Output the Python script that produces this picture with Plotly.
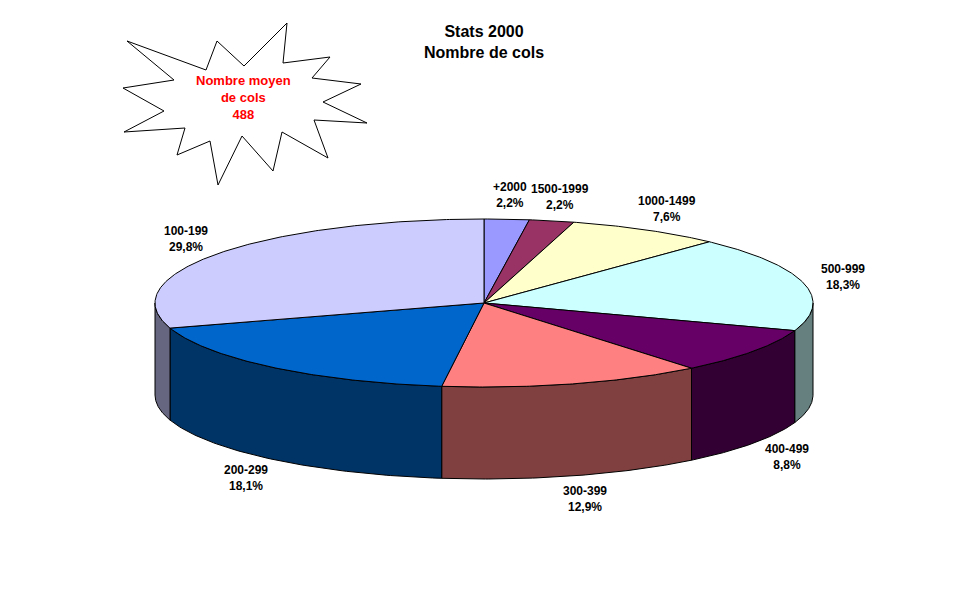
import numpy as np
import plotly.graph_objects as go

# ---- data ----
categories = ["+2000", "1500-1999", "1000-1499", "500-999", "400-499", "300-399", "200-299", "100-199"]
percent = [2.2, 2.2, 7.6, 18.3, 8.8, 12.9, 18.1, 29.8]
pct_text = ["2,2%", "2,2%", "7,6%", "18,3%", "8,8%", "12,9%", "18,1%", "29,8%"]
top_colors = ["#9999FF", "#993366", "#FFFFCC", "#CCFFFF", "#660066", "#FF8080", "#0066CC", "#CCCCFF"]
side_colors = ["#4D4D80", "#4D1A33", "#808066", "#668080", "#330033", "#804040", "#003366", "#666680"]
title_lines = ["Stats 2000", "Nombre de cols"]
callout_lines = ["Nombre moyen", "de cols", "488"]

# ---- geometry of the 3D pie (pixel space) ----
W, H = 970, 604
OFF = 8  # page body margin of the browser
cx, cy, rx, ry, depth = 484, 303, 329, 84, 92

total = sum(percent)
bounds = np.concatenate([[0], np.cumsum(percent)]) / total * 360.0


def ell(theta_deg, dy=0.0):
    t = np.radians(theta_deg)
    return cx + rx * np.sin(t), cy - ry * np.cos(t) + dy


fig = go.Figure()

# side walls (visible front half: 90..270 deg clockwise from top)
for i in range(len(categories)):
    a = max(bounds[i], 90.0)
    b = min(bounds[i + 1], 270.0)
    if a >= b:
        continue
    th = np.linspace(a, b, 80)
    xt, yt = ell(th)
    xb, yb = ell(th[::-1], depth)
    xs = np.concatenate([xt, xb, xt[:1]])
    ys = np.concatenate([yt, yb, yt[:1]])
    fig.add_trace(go.Scatter(x=xs, y=ys, mode="lines", fill="toself",
                             fillcolor=side_colors[i], line=dict(color="black", width=1),
                             hoverinfo="skip", showlegend=False))

# top faces
for i in range(len(categories)):
    th = np.linspace(bounds[i], bounds[i + 1], max(4, int((bounds[i + 1] - bounds[i]) * 2)))
    xa, ya = ell(th)
    xs = np.concatenate([[cx], xa, [cx]])
    ys = np.concatenate([[cy], ya, [cy]])
    fig.add_trace(go.Scatter(x=xs, y=ys, mode="lines", fill="toself",
                             fillcolor=top_colors[i], line=dict(color="black", width=1),
                             hoverinfo="skip", showlegend=False, name=categories[i]))

# data labels
label_font = dict(family="Liberation Sans Narrow, Arial Narrow, Liberation Sans, Arial", size=12, color="black")
for i in range(len(categories)):
    mid = (bounds[i] + bounds[i + 1]) / 2
    t = np.radians(mid)
    lx = cx + 1.125 * rx * np.sin(t)
    ly = cy - 1.29 * ry * np.cos(t) + (depth if np.cos(t) < 0 else 0)
    fig.add_annotation(x=lx, y=ly, xref="x", yref="y", showarrow=False,
                       text="<b>%s<br>%s</b>" % (categories[i], pct_text[i]),
                       font=label_font, align="center")

# title
fig.add_annotation(x=cx, y=42, xref="x", yref="y", showarrow=False,
                   text="<b>" + "<br>".join(title_lines) + "</b>",
                   font=dict(family="Liberation Sans, Arial", size=16, color="black"), align="center")

# starburst callout (decoration)
star = [(127, 41), (206, 70), (217, 41), (244, 66), (287, 23), (283, 63), (330, 57), (312, 78),
        (361, 84), (323, 102), (367, 123), (314, 120), (328, 158), (282, 132), (273, 171), (242, 136),
        (218, 185), (210, 141), (177, 155), (185, 128), (124, 132), (164, 111), (123, 88), (174, 80)]
path = "M " + " L ".join("%g,%g" % p for p in star) + " Z"
fig.add_shape(type="path", path=path, xref="x", yref="y",
              line=dict(color="black", width=1), fillcolor="white", layer="above")
fig.add_annotation(x=243, y=97, xref="x", yref="y", showarrow=False,
                   text="<b>" + "<br>".join(callout_lines) + "</b>",
                   font=dict(family="Liberation Sans, Arial", size=13, color="#FF0000"), align="center")

fig.update_layout(
    width=W, height=H, margin=dict(l=0, r=0, t=0, b=0),
    paper_bgcolor="white", plot_bgcolor="white", showlegend=False,
    xaxis=dict(range=[OFF, W + OFF], visible=False, fixedrange=True),
    yaxis=dict(range=[H + OFF, OFF], visible=False, fixedrange=True),
)

fig.write_html("out.html")
